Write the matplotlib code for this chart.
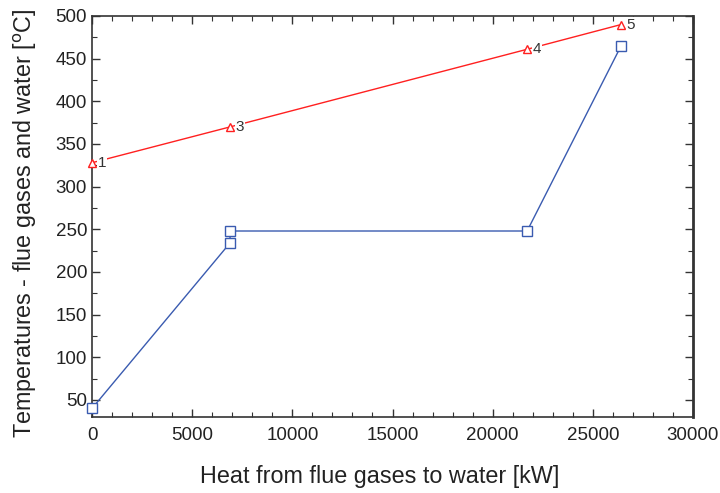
import matplotlib.pyplot as plt
from matplotlib.ticker import MultipleLocator

plt.rcParams['font.family'] = ['Liberation Sans', 'DejaVu Sans']

# flue gas line (points labelled 1,3,4,5)
gas_x = [0, 6890, 21720, 26410]
gas_t = [328, 370, 461, 490]
gas_lbl = ['1', '3', '4', '5']

# water / steam line
wat_x = [0, 6890, 6890, 21720, 26410]
wat_t = [40, 234, 248, 248, 465]

fig = plt.figure(figsize=(7.2, 4.93), dpi=100)
ax = fig.add_axes([92/720, 1-417/493, 601/720, 401/493])

ax.plot(wat_x, wat_t, color='#3a5bb0', lw=1.0, marker='s', ms=6.5,
        mfc='white', mec='#3a5bb0', mew=1.0, clip_on=False, zorder=3)
ax.plot(gas_x, gas_t, color='#ff2020', lw=1.0, marker='^', ms=6,
        mfc='white', mec='#ff2020', mew=1.0, clip_on=False, zorder=3)
for x, t, s in zip(gas_x, gas_t, gas_lbl):
    ax.annotate(s, (x, t), xytext=(4, 0), textcoords='offset points',
                fontsize=11, color='#333333', va='center', ha='left',
                bbox=dict(boxstyle='square,pad=0.05', fc='white', ec='none'))

ax.set_xlim(0, 30000)
ax.set_ylim(30, 500)
ax.xaxis.set_major_locator(MultipleLocator(5000))
ax.xaxis.set_minor_locator(MultipleLocator(1000))
ax.yaxis.set_major_locator(MultipleLocator(50))
ax.yaxis.set_minor_locator(MultipleLocator(25))
ax.tick_params(which='both', direction='in', top=True, right=True,
               labelsize=13.5, colors='#333333', labelcolor='#222222')
ax.tick_params(which='major', length=6, width=1)
ax.tick_params(which='minor', length=3.5, width=0.8)
ax.tick_params(axis='x', which='major', pad=7)
for sp in ax.spines.values():
    sp.set_color('#333333')
    sp.set_linewidth(1.2)
ax.spines['right'].set_linewidth(2)

ax.set_xlabel('Heat from flue gases to water [kW]', fontsize=16.8, color='#222222')
ax.set_ylabel('Temperatures - flue gases and water [$^{\\rm o}$C]', fontsize=16.8,
              color='#222222')
ax.xaxis.set_label_coords(0.478, -0.12)
ax.yaxis.set_label_coords(-0.088, 0.4825)

fig.savefig('out.png', dpi=100)
